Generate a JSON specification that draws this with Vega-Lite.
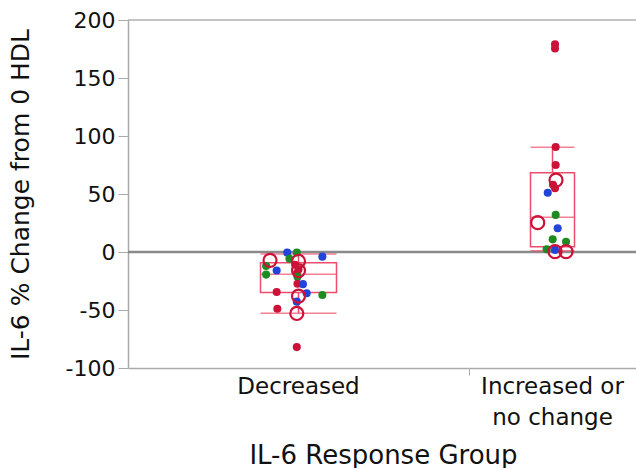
{
  "$schema": "https://vega.github.io/schema/vega-lite/v6.json",
  "padding": {"left": 8, "top": 9, "right": 0, "bottom": 0},
  "bounds": "flush",
  "spacing": 0,
  "config": {"font": "DejaVu Sans", "view": {"stroke": null}, "background": "white"},
  "datasets": {
    "box": [
      {"group": "Decreased", "lower": -52.9, "q1": -35, "median": -19.2, "q3": -9.2, "upper": -1.7},
      {"group": "Increased or no change", "lower": 1, "q1": 4.6, "median": 30, "q3": 68.4, "upper": 90.2}
    ],
    "pts": [
      {"group": "Decreased", "value": -0.5, "series": "S2", "marker": "filled", "jitter": -0.066},
      {"group": "Decreased", "value": -0.5, "series": "S3", "marker": "filled", "jitter": -0.01},
      {"group": "Decreased", "value": -4, "series": "S2", "marker": "filled", "jitter": 0.14},
      {"group": "Decreased", "value": -5.8, "series": "S3", "marker": "filled", "jitter": -0.053},
      {"group": "Decreased", "value": -12, "series": "S3", "marker": "filled", "jitter": -0.19},
      {"group": "Decreased", "value": -16, "series": "S2", "marker": "filled", "jitter": -0.128},
      {"group": "Decreased", "value": -19.5, "series": "S3", "marker": "filled", "jitter": -0.19},
      {"group": "Decreased", "value": -11, "series": "S1", "marker": "filled", "jitter": -0.02},
      {"group": "Decreased", "value": -15, "series": "S1", "marker": "filled", "jitter": 0.0},
      {"group": "Decreased", "value": -18.5, "series": "S1", "marker": "filled", "jitter": -0.01},
      {"group": "Decreased", "value": -21.3, "series": "S3", "marker": "filled", "jitter": -0.006},
      {"group": "Decreased", "value": -27.3, "series": "S1", "marker": "filled", "jitter": -0.006},
      {"group": "Decreased", "value": -27.7, "series": "S2", "marker": "filled", "jitter": 0.026},
      {"group": "Decreased", "value": -34.5, "series": "S1", "marker": "filled", "jitter": -0.128},
      {"group": "Decreased", "value": -35.5, "series": "S2", "marker": "filled", "jitter": 0.048},
      {"group": "Decreased", "value": -37, "series": "S3", "marker": "filled", "jitter": 0.14},
      {"group": "Decreased", "value": -42.8, "series": "S2", "marker": "filled", "jitter": -0.01},
      {"group": "Decreased", "value": -48.9, "series": "S1", "marker": "filled", "jitter": -0.124},
      {"group": "Decreased", "value": -82, "series": "S1", "marker": "filled", "jitter": -0.01},
      {"group": "Decreased", "value": -7.2, "series": "S1", "marker": "open", "jitter": -0.167},
      {"group": "Decreased", "value": -8, "series": "S1", "marker": "open", "jitter": 0.0},
      {"group": "Decreased", "value": -16, "series": "S1", "marker": "open", "jitter": 0.0},
      {"group": "Decreased", "value": -38, "series": "S1", "marker": "open", "jitter": 0.0},
      {"group": "Decreased", "value": -53, "series": "S1", "marker": "open", "jitter": -0.01},
      {"group": "Increased or no change", "value": 179, "series": "S1", "marker": "filled", "jitter": 0.03},
      {"group": "Increased or no change", "value": 175.5, "series": "S1", "marker": "filled", "jitter": 0.03},
      {"group": "Increased or no change", "value": 90.5, "series": "S1", "marker": "filled", "jitter": 0.038},
      {"group": "Increased or no change", "value": 75, "series": "S1", "marker": "filled", "jitter": 0.038},
      {"group": "Increased or no change", "value": 58, "series": "S1", "marker": "filled", "jitter": 0.006},
      {"group": "Increased or no change", "value": 55, "series": "S1", "marker": "filled", "jitter": 0.03},
      {"group": "Increased or no change", "value": 51, "series": "S2", "marker": "filled", "jitter": -0.057},
      {"group": "Increased or no change", "value": 32, "series": "S3", "marker": "filled", "jitter": 0.038},
      {"group": "Increased or no change", "value": 20.4, "series": "S2", "marker": "filled", "jitter": 0.062},
      {"group": "Increased or no change", "value": 10.9, "series": "S3", "marker": "filled", "jitter": 0.002},
      {"group": "Increased or no change", "value": 8.9, "series": "S3", "marker": "filled", "jitter": 0.162},
      {"group": "Increased or no change", "value": 2.3, "series": "S3", "marker": "filled", "jitter": -0.07},
      {"group": "Increased or no change", "value": 1.7, "series": "S2", "marker": "filled", "jitter": 0.03},
      {"group": "Increased or no change", "value": 62, "series": "S1", "marker": "open", "jitter": 0.042},
      {"group": "Increased or no change", "value": 25.3, "series": "S1", "marker": "open", "jitter": -0.177},
      {"group": "Increased or no change", "value": 0.3, "series": "S1", "marker": "open", "jitter": 0.03},
      {"group": "Increased or no change", "value": 0.3, "series": "S1", "marker": "open", "jitter": 0.162}
    ]
  },
  "resolve": {"scale": {"y": "shared", "x": "independent", "xOffset": "independent"}},
  "hconcat": [
    {
      "width": 341,
      "height": 348,
      "data": {"name": "box"},
      "transform": [{"filter": "datum.group == 'Decreased'"}],
      "encoding": {
        "x": {"field": "group", "type": "nominal", "scale": {"paddingInner": 0, "paddingOuter": 0},
          "axis": {"title": "IL-6 Response Group", "titleFontSize": 26, "titleFontWeight": "normal", "titleColor": "#111",
            "titleX": 255, "titleY": 95, "titleBaseline": "alphabetic", "titleAlign": "center", "titleAnchor": null,
            "labelAngle": 0, "labelFontSize": 23, "labelColor": "#111", "labelPadding": 0, "labelBaseline": "top",
            "tickSize": 7, "tickColor": "transparent", "domainColor": "#aaaaaa", "domainWidth": 1.5}}
      },
      "layer": [
        {"mark": {"type": "rule", "color": "#b0b0b0", "strokeWidth": 1.5}, "encoding": {"x": null, "y": {"datum": 200, "type": "quantitative", "scale": {"domain": [-100, 200]}}}},
        {"mark": {"type": "rule", "color": "#8a8a8a", "strokeWidth": 2.5}, "encoding": {"x": null, "y": {"datum": 0, "type": "quantitative"}}},
        {"mark": {"type": "rule", "color": "#ee4d6b", "strokeWidth": 1.5}, "encoding": {"y": {"field": "lower", "type": "quantitative"}, "y2": {"field": "q1"}}},
        {"mark": {"type": "rule", "color": "#ee4d6b", "strokeWidth": 1.5}, "encoding": {"y": {"field": "q3", "type": "quantitative"}, "y2": {"field": "upper"}}},
        {"mark": {"type": "bar", "width": 76, "fill": "transparent", "stroke": "#ee4d6b", "strokeWidth": 1.5}, "encoding": {"y": {"field": "q1", "type": "quantitative"}, "y2": {"field": "q3"}}},
        {"mark": {"type": "tick", "size": 76, "thickness": 1.5, "color": "#ee4d6b"}, "encoding": {"y": {"field": "median", "type": "quantitative"}}},
        {"mark": {"type": "tick", "size": 76, "thickness": 1.5, "color": "#ee4d6b"}, "encoding": {"y": {"field": "lower", "type": "quantitative"}}},
        {"mark": {"type": "tick", "size": 76, "thickness": 1.5, "color": "#ee4d6b"}, "encoding": {"y": {"field": "upper", "type": "quantitative",
          "axis": {"title": "IL-6 % Change from 0 HDL", "titleFontSize": 25, "titleFontWeight": "normal", "titleColor": "#111", "titlePadding": 32,
            "values": [-100, -50, 0, 50, 100, 150, 200], "labelExpr": "replace(datum.label, '\u2212', '-')",
            "labelFontSize": 22, "labelColor": "#111", "labelPadding": 3, "tickSize": 10,
            "tickColor": "#aaaaaa", "domainColor": "#aaaaaa", "domainWidth": 1.5, "grid": false}}}},
        {"data": {"name": "pts"}, "transform": [{"filter": "datum.group == 'Decreased' && datum.marker == 'filled'"}],
          "mark": {"type": "point", "filled": true, "size": 65, "opacity": 1},
          "encoding": {"y": {"field": "value", "type": "quantitative"}, "xOffset": {"field": "jitter", "type": "quantitative", "scale": {"domain": [-1, 1]}},
            "color": {"field": "series", "type": "nominal", "scale": {"domain": ["S1", "S2", "S3"], "range": ["#cc1238", "#2244d8", "#1f8a22"]}, "legend": null}}},
        {"data": {"name": "pts"}, "transform": [{"filter": "datum.group == 'Decreased' && datum.marker == 'open'"}],
          "mark": {"type": "point", "filled": false, "size": 170, "strokeWidth": 2.2, "color": "#cc1238", "opacity": 1},
          "encoding": {"y": {"field": "value", "type": "quantitative"}, "xOffset": {"field": "jitter", "type": "quantitative", "scale": {"domain": [-1, 1]}}}}
      ]
    },
    {
      "width": 167,
      "height": 348,
      "data": {"name": "box"},
      "transform": [{"filter": "datum.group == 'Increased or no change'"}],
      "encoding": {
        "x": {"field": "group", "type": "nominal", "scale": {"paddingInner": 0, "paddingOuter": 0},
          "axis": {"title": null, "labelAngle": 0, "labelFontSize": 23, "labelColor": "#111", "labelPadding": 0, "labelBaseline": "top",
            "labelLineHeight": 31,
            "labelExpr": "datum.value == 'Increased or no change' ? ['Increased or', 'no change'] : datum.value",
            "bandPosition": 0, "tickSize": 7, "tickColor": "#aaaaaa", "domainColor": "#aaaaaa", "domainWidth": 1.5}}
      },
      "layer": [
        {"mark": {"type": "rule", "color": "#b0b0b0", "strokeWidth": 1.5}, "encoding": {"x": null, "y": {"datum": 200, "type": "quantitative", "scale": {"domain": [-100, 200]}, "axis": null}}},
        {"mark": {"type": "rule", "color": "#8a8a8a", "strokeWidth": 2.5}, "encoding": {"x": null, "y": {"datum": 0, "type": "quantitative", "axis": null}}},
        {"mark": {"type": "rule", "color": "#ee4d6b", "strokeWidth": 1.5}, "encoding": {"y": {"field": "lower", "type": "quantitative", "axis": null}, "y2": {"field": "q1"}}},
        {"mark": {"type": "rule", "color": "#ee4d6b", "strokeWidth": 1.5}, "encoding": {"y": {"field": "q3", "type": "quantitative", "axis": null}, "y2": {"field": "upper"}}},
        {"mark": {"type": "bar", "width": 44, "fill": "transparent", "stroke": "#ee4d6b", "strokeWidth": 1.5}, "encoding": {"y": {"field": "q1", "type": "quantitative", "axis": null}, "y2": {"field": "q3"}}},
        {"mark": {"type": "tick", "size": 44, "thickness": 1.5, "color": "#ee4d6b"}, "encoding": {"y": {"field": "median", "type": "quantitative", "axis": null}}},
        {"mark": {"type": "tick", "size": 44, "thickness": 1.5, "color": "#ee4d6b"}, "encoding": {"y": {"field": "lower", "type": "quantitative", "axis": null}}},
        {"mark": {"type": "tick", "size": 44, "thickness": 1.5, "color": "#ee4d6b"}, "encoding": {"y": {"field": "upper", "type": "quantitative", "axis": null}}},
        {"data": {"name": "pts"}, "transform": [{"filter": "datum.group == 'Increased or no change' && datum.marker == 'filled'"}],
          "mark": {"type": "point", "filled": true, "size": 65, "opacity": 1},
          "encoding": {"y": {"field": "value", "type": "quantitative", "axis": null}, "xOffset": {"field": "jitter", "type": "quantitative", "scale": {"domain": [-1, 1]}},
            "color": {"field": "series", "type": "nominal", "scale": {"domain": ["S1", "S2", "S3"], "range": ["#cc1238", "#2244d8", "#1f8a22"]}, "legend": null}}},
        {"data": {"name": "pts"}, "transform": [{"filter": "datum.group == 'Increased or no change' && datum.marker == 'open'"}],
          "mark": {"type": "point", "filled": false, "size": 170, "strokeWidth": 2.2, "color": "#cc1238", "opacity": 1},
          "encoding": {"y": {"field": "value", "type": "quantitative", "axis": null}, "xOffset": {"field": "jitter", "type": "quantitative", "scale": {"domain": [-1, 1]}}}}
      ]
    }
  ]
}
